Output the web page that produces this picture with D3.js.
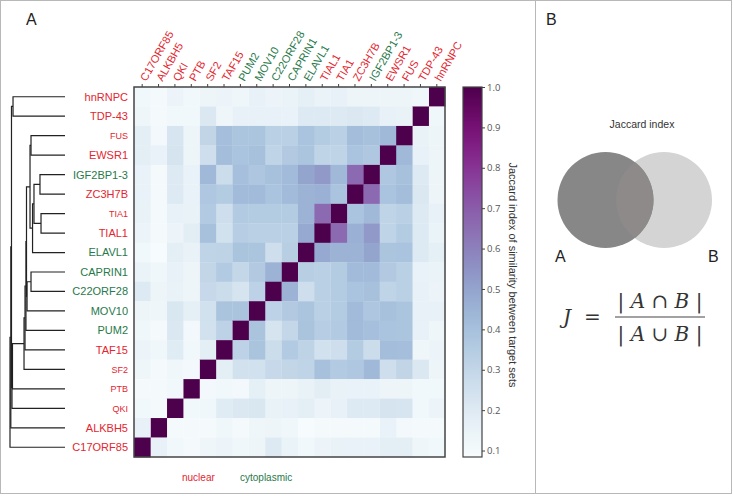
<!DOCTYPE html>
<html><head><meta charset="utf-8">
<script src="https://cdn.jsdelivr.net/npm/d3@7"></script>
<style>body{margin:0;background:#fff} svg{display:block}</style>
</head><body><svg id="c" width="733" height="496" font-family="'Liberation Sans', Arial, sans-serif"></svg>
<script>
// ---------- data ----------
const rowLabels = ["hnRNPC","TDP-43","FUS","EWSR1","IGF2BP1-3","ZC3H7B","TIA1","TIAL1","ELAVL1","CAPRIN1","C22ORF28","MOV10","PUM2","TAF15","SF2","PTB","QKI","ALKBH5","C17ORF85"];
const colLabels = ["C17ORF85","ALKBH5","QKI","PTB","SF2","TAF15","PUM2","MOV10","C22ORF28","CAPRIN1","ELAVL1","TIAL1","TIA1","ZC3H7B","IGF2BP1-3","EWSR1","FUS","TDP-43","hnRNPC"];
const cytoplasmic = ["IGF2BP1-3","ELAVL1","CAPRIN1","C22ORF28","MOV10","PUM2"];
const smallLabels = ["FUS","TIA1","SF2","PTB","QKI"];
// Jaccard matrix, rows and columns both in rowLabels order
const jaccard = [
 [1,.12,.13,.13,.135,.13,.16,.145,.17,.145,.14,.16,.125,.14,.13,.115,.14,.10,.115],
 [.12,1,.155,.16,.20,.21,.20,.20,.20,.15,.16,.16,.16,.125,.21,.115,.115,.10,.125],
 [.13,.155,1,.43,.40,.415,.33,.35,.39,.33,.33,.38,.38,.41,.305,.13,.23,.11,.18],
 [.13,.16,.43,1,.37,.39,.31,.31,.38,.36,.31,.40,.39,.415,.26,.135,.235,.15,.18],
 [.135,.20,.40,.37,1,.66,.43,.53,.50,.42,.40,.375,.405,.27,.43,.15,.20,.10,.15],
 [.13,.21,.415,.39,.66,1,.39,.46,.45,.42,.39,.42,.42,.35,.37,.15,.20,.10,.15],
 [.16,.20,.33,.31,.43,.39,1,.66,.45,.35,.35,.35,.355,.26,.355,.155,.16,.10,.155],
 [.145,.20,.35,.31,.53,.46,.66,1,.485,.33,.33,.33,.345,.25,.40,.185,.14,.10,.14],
 [.17,.20,.39,.38,.50,.45,.45,.485,1,.34,.26,.38,.385,.315,.31,.155,.18,.09,.115],
 [.145,.15,.33,.36,.42,.42,.35,.33,.34,1,.45,.36,.295,.355,.30,.13,.16,.12,.145],
 [.14,.16,.33,.31,.40,.39,.35,.33,.26,.45,1,.32,.235,.27,.29,.135,.155,.135,.20],
 [.16,.16,.38,.40,.375,.42,.35,.33,.38,.36,.32,1,.385,.385,.25,.17,.22,.125,.135],
 [.125,.16,.38,.39,.405,.42,.355,.345,.385,.295,.235,.385,1,.32,.25,.11,.21,.10,.12],
 [.14,.125,.41,.415,.27,.35,.26,.25,.315,.355,.27,.385,.32,1,.18,.115,.19,.12,.14],
 [.13,.21,.305,.26,.43,.37,.355,.40,.31,.30,.29,.25,.25,.18,1,.11,.12,.10,.125],
 [.115,.115,.13,.135,.15,.15,.155,.185,.155,.13,.135,.17,.11,.115,.11,1,.115,.10,.10],
 [.14,.115,.23,.235,.20,.20,.16,.14,.18,.16,.155,.22,.21,.19,.12,.115,1,.10,.115],
 [.10,.10,.11,.15,.10,.10,.10,.10,.09,.12,.135,.125,.10,.12,.10,.10,.10,1,.16],
 [.115,.125,.18,.18,.15,.15,.155,.14,.115,.145,.20,.135,.12,.14,.125,.10,.115,.16,1]
];
// dendrogram merges: [childA, childB, height]; "mK" refers to merge K
const merges = [
 ["TIA1","TIAL1",0.436],
 ["IGF2BP1-3","ZC3H7B",0.455],
 ["m1","m0",0.564],
 ["m2","ELAVL1",0.59],
 ["FUS","EWSR1",0.618],
 ["m4","m3",0.636],
 ["CAPRIN1","C22ORF28",0.618],
 ["m6","MOV10",0.69],
 ["m5","m7",0.70],
 ["m8","PUM2",0.71],
 ["m9","TAF15",0.727],
 ["m10","SF2",0.745],
 ["hnRNPC","TDP-43",0.945],
 ["m11","PTB",0.955],
 ["m13","QKI",0.964],
 ["m12","m14",0.973],
 ["m15","ALKBH5",0.985],
 ["m16","C17ORF85",1.0]
];
const colorTicks = [0.1,0.2,0.3,0.4,0.5,0.6,0.7,0.8,0.9,1.0];
const colorDomain = [0.084, 1.0];

// ---------- drawing ----------
const RED = "#e3262f", GREEN = "#28794a";
const svg = d3.select("#c");
const labColor = n => cytoplasmic.includes(n) ? GREEN : RED;

// frame
svg.append("rect").attr("x",0.5).attr("y",0.5).attr("width",731).attr("height",493)
  .attr("fill","none").attr("stroke","#b8b8b8");
svg.append("line").attr("x1",535.5).attr("x2",535.5).attr("y1",0).attr("y2",494).attr("stroke","#b8b8b8");
svg.append("text").attr("x",26).attr("y",25).attr("font-size",16).attr("fill","#222").text("A");
svg.append("text").attr("x",546).attr("y",25).attr("font-size",16).attr("fill","#222").text("B");

const hm = {x0:134, x1:445, y0:87, y1:457};
const x = d3.scaleBand().domain(colLabels).range([hm.x0, hm.x1]);
const y = d3.scaleBand().domain(rowLabels).range([hm.y0, hm.y1]);
const color = d3.scaleSequential(d3.interpolateBuPu).domain(colorDomain);

const cells = [];
rowLabels.forEach((r,i)=>rowLabels.forEach((c,j)=>cells.push({r,c,v:jaccard[i][j]})));
svg.append("g").selectAll("rect").data(cells).join("rect")
  .attr("x",d=>x(d.c)).attr("y",d=>y(d.r))
  .attr("width",x.bandwidth()+0.3).attr("height",y.bandwidth()+0.3)
  .attr("fill",d=>color(d.v));
svg.append("rect").attr("x",hm.x0).attr("y",hm.y0).attr("width",hm.x1-hm.x0).attr("height",hm.y1-hm.y0)
  .attr("fill","none").attr("stroke","#444").attr("stroke-width",1.5);

// top ticks
svg.append("g").selectAll("line").data(colLabels).join("line")
  .attr("x1",d=>x(d)+x.bandwidth()/2).attr("x2",d=>x(d)+x.bandwidth()/2)
  .attr("y1",hm.y0).attr("y2",hm.y0-3).attr("stroke","#444");

// column labels
svg.append("g").selectAll("text").data(colLabels).join("text")
  .attr("transform",d=>`translate(${x(d)+x.bandwidth()/2+4},${hm.y0-5}) rotate(-60)`)
  .attr("text-anchor","start").attr("font-size",11).attr("fill",labColor).text(d=>d);

// row labels
svg.append("g").selectAll("text").data(rowLabels).join("text")
  .attr("x",128).attr("y",d=>y(d)+y.bandwidth()/2).attr("dy","0.36em")
  .attr("text-anchor","end").attr("font-size",d=>smallLabels.includes(d)?9:11)
  .attr("fill",labColor).text(d=>d);

// dendrogram
const dx = d3.scaleLinear().domain([0,1]).range([65,10]);
const nodes = {};
rowLabels.forEach(n=>nodes[n]={y:y(n)+y.bandwidth()/2,h:0});
const dg = svg.append("g").attr("stroke","#222").attr("stroke-width",1.2).attr("fill","none");
merges.forEach((m,k)=>{
  const a=nodes[m[0]], b=nodes[m[1]], h=m[2];
  dg.append("path").attr("d",`M${dx(a.h)},${a.y}H${dx(h)}V${b.y}H${dx(b.h)}`);
  nodes["m"+k]={y:(a.y+b.y)/2,h};
});

// colorbar
const cb = {x:463, w:19};
const cy = d3.scaleLinear().domain(colorDomain).range([hm.y1, hm.y0]);
const grad = svg.append("defs").append("linearGradient").attr("id","cbg")
  .attr("x1",0).attr("x2",0).attr("y1",1).attr("y2",0);
d3.range(0,1.0001,0.05).forEach(t=>grad.append("stop").attr("offset",t).attr("stop-color",d3.interpolateBuPu(t)));
svg.append("rect").attr("x",cb.x).attr("y",hm.y0).attr("width",cb.w).attr("height",hm.y1-hm.y0)
  .attr("fill","url(#cbg)").attr("stroke","#444").attr("stroke-width",1.2);
const ax = svg.append("g").attr("transform",`translate(${cb.x+cb.w},0)`)
  .call(d3.axisRight(cy).tickValues(colorTicks).tickFormat(d3.format(".1f")).tickSize(3).tickPadding(2));
ax.select(".domain").remove();
ax.selectAll("text").attr("font-size",9.5).attr("fill","#555").attr("font-family","'Open Sans', Lato, sans-serif");
ax.selectAll("line").attr("stroke","#444");
svg.append("text").attr("transform","translate(509,275) rotate(90)").attr("text-anchor","middle")
  .attr("font-size",11).attr("fill","#333").text("Jaccard index of similarity between target sets");

// legend
svg.append("text").attr("x",182).attr("y",481).attr("font-size",10).attr("fill",RED).text("nuclear");
svg.append("text").attr("x",240).attr("y",481).attr("font-size",10).attr("fill",GREEN).text("cytoplasmic");

// panel B
svg.append("text").attr("x",642).attr("y",128).attr("text-anchor","middle").attr("font-size",10.5).attr("fill","#333").text("Jaccard index");
svg.append("circle").attr("cx",664).attr("cy",200).attr("r",48).attr("fill","#d4d4d5");
svg.append("circle").attr("cx",605.5).attr("cy",200).attr("r",48).attr("fill","#878787");
svg.append("clipPath").attr("id","cpB").append("circle").attr("cx",664).attr("cy",200).attr("r",48);
svg.append("circle").attr("cx",605.5).attr("cy",200).attr("r",48).attr("fill","#8e8a8a").attr("clip-path","url(#cpB)");
svg.append("text").attr("x",555).attr("y",262).attr("font-size",16).attr("fill","#222").text("A");
svg.append("text").attr("x",708).attr("y",262).attr("font-size",16).attr("fill","#222").text("B");

const serif = "'DejaVu Serif','Liberation Serif',serif";
const eq = svg.append("g").attr("fill","#333").attr("font-family",serif).attr("font-size",20);
eq.append("text").attr("x",563).attr("y",324).attr("font-style","italic").text("J");
eq.append("text").attr("x",584).attr("y",324).text("=");
const num = eq.append("text").attr("x",660).attr("y",308).attr("text-anchor","middle");
num.append("tspan").text("| ");num.append("tspan").attr("font-style","italic").text("A");
num.append("tspan").text(" ∩ ");num.append("tspan").attr("font-style","italic").text("B");num.append("tspan").text(" |");
const den = eq.append("text").attr("x",660).attr("y",341).attr("text-anchor","middle");
den.append("tspan").text("| ");den.append("tspan").attr("font-style","italic").text("A");
den.append("tspan").text(" ∪ ");den.append("tspan").attr("font-style","italic").text("B");den.append("tspan").text(" |");
svg.append("line").attr("x1",615).attr("x2",705).attr("y1",317).attr("y2",317).attr("stroke","#444").attr("stroke-width",1.2);
</script></body></html>
